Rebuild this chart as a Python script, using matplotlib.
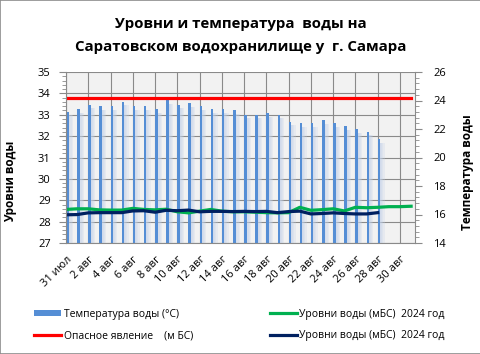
import numpy as np
import matplotlib
matplotlib.use("Agg")
import matplotlib.pyplot as plt
from matplotlib.patches import Patch, Rectangle
from matplotlib.lines import Line2D
from matplotlib.ticker import MultipleLocator

plt.rcParams['font.family'] = ['Open Sans', 'DejaVu Sans']

# Подписи дат (каждые 2 дня, 31 июл - 30 авг)
tick_labels = ['31 июл', '2 авг', '4 авг', '6 авг', '8 авг', '10 авг', '12 авг', '14 авг',
               '16 авг', '18 авг', '20 авг', '22 авг', '24 авг', '26 авг', '28 авг', '30 авг']

# Температура воды, °C (31 июл - 28 авг)
temperature = [23.2, 23.4, 23.7, 23.6, 23.6, 23.9, 23.6, 23.6, 23.4, 24.0, 23.7, 23.8,
               23.6, 23.4, 23.4, 23.3, 23.0, 23.0, 23.1, 23.0, 22.5, 22.4, 22.4, 22.6,
               22.4, 22.2, 22.0, 21.8, 21.3]

# Уровни воды, мБС (зелёная линия, 31 июл - 31 авг)
level_green = [28.57, 28.60, 28.60, 28.55, 28.54, 28.54, 28.62, 28.57, 28.55, 28.58,
               28.46, 28.41, 28.49, 28.57, 28.49, 28.46, 28.46, 28.44, 28.42, 28.41,
               28.42, 28.67, 28.53, 28.56, 28.60, 28.50, 28.67, 28.65, 28.67, 28.70,
               28.70, 28.72]

# Уровни воды, мБС (тёмно-синяя линия, 31 июл - 28 авг)
level_navy = [28.32, 28.33, 28.41, 28.42, 28.42, 28.42, 28.50, 28.51, 28.44, 28.53,
              28.51, 28.54, 28.46, 28.48, 28.48, 28.47, 28.48, 28.47, 28.48, 28.42,
              28.47, 28.49, 28.36, 28.38, 28.41, 28.38, 28.36, 28.36, 28.42]

# Опасное явление, мБС
danger_level = 33.8

days_full = np.arange(len(level_green))
days_temp = np.arange(len(temperature))
days_navy = np.arange(len(level_navy))

fig = plt.figure(figsize=(4.81, 3.54), dpi=100)
fig.patches.append(Rectangle((0, 0), 1, 1, transform=fig.transFigure,
                             fill=False, edgecolor='#8c8c8c', linewidth=1.2))

pos = [66 / 481, 111 / 354, 349 / 481, 171 / 354]

# Фон с сеткой
axg = fig.add_axes(pos)
axg.set_facecolor('#f2f2f2')
axg.set_xlim(0, 31.35)
axg.set_ylim(27, 35)
axg.set_xticks(days_full)
axg.set_yticks(np.arange(27, 36))
axg.grid(True, color='#8a8a8a', linewidth=0.8)
axg.tick_params(left=False, bottom=False, labelleft=False, labelbottom=False)
for s in axg.spines.values():
    s.set_visible(False)

# Температура (правая ось)
ax2 = fig.add_axes(pos, sharex=axg)
ax2.patch.set_visible(False)
ax2.set_ylim(14, 26)
# тень столбцов
temp_arr = np.array(temperature)
for w in [0.62, 0.5, 0.4, 0.3]:
    ax2.bar(days_temp, temp_arr - 14 - 0.25, bottom=14, width=w,
            align='edge', color='#c3d2ea', alpha=0.25, linewidth=0)
ax2.bar(days_temp, temp_arr - 14, bottom=14, width=0.23,
        align='edge', color='#558ed5', linewidth=0)
ax2.yaxis.tick_right()
ax2.yaxis.set_label_position('right')
ax2.set_yticks(np.arange(14, 27, 2))
ax2.yaxis.set_minor_locator(MultipleLocator(0.4))
ax2.tick_params(axis='y', which='major', length=5, color='#8a8a8a', labelsize=8, pad=8)
ax2.tick_params(axis='y', which='minor', length=3, color='#8a8a8a')
ax2.tick_params(axis='x', bottom=False, labelbottom=False)
ax2.set_ylabel('Температура воды', fontsize=8.5, fontweight='bold')
ax2.yaxis.set_label_coords(1.133, 0.415)
for side in ['top', 'left', 'bottom']:
    ax2.spines[side].set_visible(False)
ax2.spines['right'].set_color('#8a8a8a')

# Уровни (левая ось)
ax = fig.add_axes(pos, sharex=axg)
ax.patch.set_visible(False)
ax.set_ylim(27, 35)
ax.plot(days_full, np.full(len(days_full), danger_level), color='#ff0000', linewidth=2.3)
ax.plot(days_full, level_green, color='#00b050', linewidth=2.3)
ax.plot(days_navy, level_navy, color='#002060', linewidth=2.3)
ax.set_yticks(np.arange(27, 36))
ax.yaxis.set_minor_locator(MultipleLocator(0.2))
ax.tick_params(axis='y', which='major', length=5, color='#8a8a8a', labelsize=8, pad=6)
ax.tick_params(axis='y', which='minor', length=3, color='#8a8a8a')
ax.set_xticks(days_full[::2])
ax.set_xticklabels(tick_labels, rotation=45, ha='right', va='top',
                   rotation_mode='anchor', fontsize=8)
ax.tick_params(axis='x', length=0, pad=8)
ax.set_ylabel('Уровни воды', fontsize=8.5, fontweight='bold')
ax.yaxis.set_label_coords(-0.14, 0.36)
for side in ['top', 'right']:
    ax.spines[side].set_visible(False)
ax.spines['left'].set_color('#8a8a8a')
ax.spines['bottom'].set_color('#8a8a8a')

fig.text(0.5, 0.9, 'Уровни и температура  воды на\nСаратовском водохранилище у  г. Самара',
         ha='center', va='center', fontsize=10.8, fontweight='bold', linespacing=1.75)

handles = [
    Patch(facecolor='#558ed5', edgecolor='none'),
    Line2D([], [], color='#ff0000', linewidth=2.3),
    Line2D([], [], color='#00b050', linewidth=2.3),
    Line2D([], [], color='#002060', linewidth=2.3),
]
labels = ['Температура воды (°С)', 'Опасное явление    (м БС)',
          'Уровни воды (мБС)  2024 год', 'Уровни воды (мБС)  2024 год']
fig.legend(handles, labels, ncol=2, loc='center left', bbox_to_anchor=(0.052, 0.082),
           frameon=False, fontsize=7.5, handlelength=2.6, handleheight=0.6,
           handletextpad=0.2, columnspacing=7.4, labelspacing=1.05)

fig.savefig('out.png', dpi=100)
